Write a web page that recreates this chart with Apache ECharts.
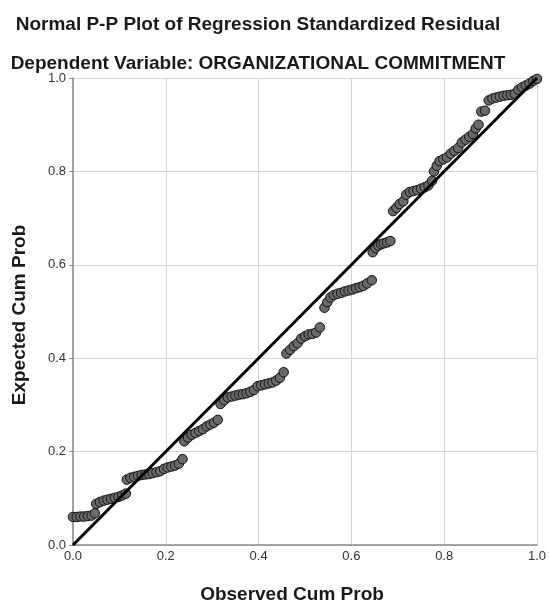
<!DOCTYPE html>
<html>
<head>
<meta charset="utf-8">
<script src="https://cdn.jsdelivr.net/npm/echarts@6/dist/echarts.min.js"></script>
<style>
html,body{margin:0;padding:0;background:#fff;}
#chart{width:549px;height:603px;}
</style>
</head>
<body>
<div id="chart"></div>
<script>
// Observed cumulative probability (x) and expected cumulative probability (y)
var observed = [
  0.000,0.008,0.016,0.024,0.032,0.040,0.047,
  0.050,0.058,0.066,0.074,0.082,0.090,0.098,0.106,0.114,
  0.116,0.124,0.132,0.140,0.148,0.156,0.164,0.172,0.180,0.188,0.196,0.204,0.212,0.220,0.228,0.236,
  0.240,0.248,0.256,0.264,0.272,0.280,0.288,0.296,0.304,0.312,
  0.318,0.326,0.334,0.342,0.350,0.358,0.366,0.374,0.382,0.390,0.398,0.406,0.414,0.422,0.430,0.438,0.446,0.454,
  0.460,0.468,0.476,0.484,0.492,0.500,0.508,0.516,0.524,0.532,
  0.542,0.548,0.555,0.562,0.570,0.578,0.586,0.594,0.602,0.610,0.618,0.626,0.634,0.644,
  0.646,0.652,0.658,0.664,0.670,0.677,0.684,
  0.690,0.697,0.704,0.712,0.718,0.726,0.734,0.742,0.750,0.758,0.766,0.774,
  0.778,0.784,0.790,0.798,0.806,0.814,0.822,0.830,0.838,0.846,0.854,0.862,0.868,0.874,
  0.880,0.888,
  0.896,0.904,0.912,0.920,0.928,0.936,0.944,0.952,0.960,0.968,0.976,0.984,0.992,1.000
];
var expected = [
  0.060,0.060,0.061,0.061,0.062,0.063,0.068,
  0.088,0.092,0.095,0.097,0.099,0.101,0.103,0.106,0.110,
  0.140,0.144,0.146,0.148,0.150,0.151,0.152,0.154,0.156,0.158,0.163,0.166,0.168,0.170,0.174,0.184,
  0.222,0.230,0.236,0.240,0.244,0.248,0.254,0.258,0.262,0.268,
  0.302,0.310,0.316,0.318,0.320,0.322,0.323,0.325,0.328,0.332,0.340,0.342,0.344,0.346,0.348,0.352,0.358,0.370,
  0.410,0.418,0.426,0.432,0.442,0.447,0.451,0.452,0.455,0.466,
  0.508,0.520,0.530,0.535,0.538,0.540,0.543,0.545,0.547,0.550,0.552,0.555,0.560,0.567,
  0.627,0.636,0.641,0.644,0.646,0.648,0.651,
  0.715,0.722,0.730,0.736,0.750,0.756,0.758,0.760,0.763,0.766,0.770,0.780,
  0.800,0.812,0.822,0.826,0.830,0.838,0.844,0.850,0.862,0.868,0.874,0.880,0.892,0.900,
  0.928,0.930,
  0.952,0.956,0.958,0.960,0.962,0.963,0.964,0.966,0.975,0.980,0.984,0.988,0.994,0.998
];
var refLineX = [0, 1];
var refLineY = [0, 1];
var titleLines = ['Normal P-P Plot of Regression Standardized Residual', 'Dependent Variable: ORGANIZATIONAL COMMITMENT'];
var xAxisName = 'Observed Cum Prob';
var yAxisName = 'Expected Cum Prob';

var pts = observed.map(function (x, i) { return [x, expected[i]]; });
var linePts = refLineX.map(function (x, i) { return [x, refLineY[i]]; });

var chart = echarts.init(document.getElementById('chart'), null, {renderer: 'canvas'});
var FF = '"Liberation Sans", Arial, sans-serif';
var axisCommon = {
  type: 'value', min: 0, max: 1, interval: 0.2,
  axisLine: {show: true, lineStyle: {color: '#8a8a8a', width: 1.5}},
  splitLine: {show: true, lineStyle: {color: '#d4d4d4', width: 1}},
  axisLabel: {color: '#333', fontSize: 13, fontFamily: FF, formatter: function (v) { return v.toFixed(1); }}
};
chart.setOption({
  animation: false,
  backgroundColor: '#fff',
  grid: {left: 73, right: 8, top: 78, bottom: 58, containLabel: false},
  xAxis: echarts.util.merge({axisTick: {show: false}, axisLabel: {margin: 5}}, axisCommon, true),
  yAxis: echarts.util.merge({axisTick: {show: true, length: 4, lineStyle: {color: '#8a8a8a'}}, axisLabel: {margin: 7}}, axisCommon, true),
  graphic: [
    {type: 'text', style: {text: titleLines[0], font: 'bold 19px ' + FF, fill: '#1a1a1a', textAlign: 'center', textVerticalAlign: 'middle', x: 258, y: 25}},
    {type: 'text', style: {text: titleLines[1], font: 'bold 19px ' + FF, fill: '#1a1a1a', textAlign: 'center', textVerticalAlign: 'middle', x: 258, y: 64}},
    {type: 'text', style: {text: xAxisName, font: 'bold 19px ' + FF, fill: '#1a1a1a', textAlign: 'center', textVerticalAlign: 'middle', x: 292, y: 595}},
    {type: 'text', rotation: Math.PI / 2, x: 20, y: 315, style: {text: yAxisName, font: 'bold 19px ' + FF, fill: '#1a1a1a', textAlign: 'center', textVerticalAlign: 'middle', x: 0, y: 0}}
  ],
  series: [
    {type: 'scatter', data: pts, symbol: 'circle', symbolSize: 9.5,
     itemStyle: {color: '#6a6a6a', borderColor: '#111', borderWidth: 1, opacity: 1}, z: 2},
    {type: 'line', data: linePts, symbol: 'none', lineStyle: {color: '#000', width: 3}, z: 3, silent: true}
  ]
});
</script>
</body>
</html>
